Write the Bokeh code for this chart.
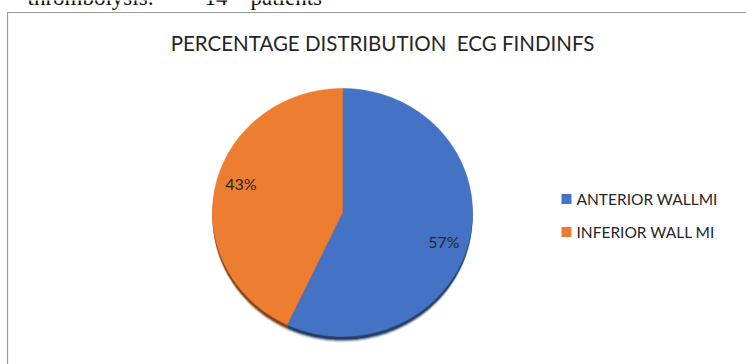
import numpy as np
from bokeh.plotting import figure
from bokeh.models import Range1d, ColumnDataSource
from bokeh.core.properties import value
from bokeh.embed import file_html
from bokeh.resources import INLINE

# ---- data -------------------------------------------------------------
chart_title = "PERCENTAGE DISTRIBUTION \u00a0ECG FINDINFS"
categories = ["ANTERIOR WALLMI", "INFERIOR WALL MI"]
percentages = [57, 43]
slice_colors = ["#4472C4", "#ED7D31"]
shadow_colors = ["#1F3760", "#7A3D12"]
caption_words = ["thrombolysis:", "14", "patients"]

# ---- canvas: one data unit per screen pixel, y grows downwards ---------
W, H = 746, 364
p = figure(width=W, height=H, x_range=Range1d(0, W), y_range=Range1d(H, 0),
           x_axis_type=None, y_axis_type=None, output_backend="svg",
           toolbar_location=None, min_border=0)
p.grid.visible = False
p.outline_line_color = None
p.background_fill_color = "white"
p.border_fill_color = "white"

# line of body text above the chart, partly cut by the top edge
p.text(x=[27, 204, 250], y=[-2.8, -2.8, -2.8], text=caption_words,
       text_font=value("Liberation Serif"), text_font_size="23px",
       text_color="#111111", text_baseline="middle", text_align="left")

# chart frame
p.line(x=[7, 7, W], y=[H, 12, 12], line_color="#9a9a9a", line_width=1.2)

# title
p.text(x=[382], y=[42], text=[chart_title], text_font=value("Lato"),
       text_font_size="20.5px", text_color="#262626",
       text_align="center", text_baseline="middle")

# ---- pie ---------------------------------------------------------------
cx, cy, rx, ry = 342, 212, 130, 124
fractions = np.array(percentages, dtype=float) / sum(percentages)
ends = np.cumsum(fractions) * 2 * np.pi
starts = ends - fractions * 2 * np.pi


def slice_outline(a0, a1, dy=0.0):
    t = np.linspace(a0, a1, 200)
    xs = np.concatenate([[cx], cx + rx * np.sin(t), [cx]])
    ys = np.concatenate([[cy + dy], cy + dy - ry * np.cos(t), [cy + dy]])
    return list(xs), list(ys)


# soft drop shadow below the pie
for dy, alpha in [(6, 0.12), (5, 0.25), (4, 0.5), (3, 0.9)]:
    xs, ys = zip(*[slice_outline(a, b, dy) for a, b in zip(starts, ends)])
    p.patches(xs=list(xs), ys=list(ys), fill_color=shadow_colors,
              fill_alpha=alpha, line_color=None)

xs, ys = zip(*[slice_outline(a, b) for a, b in zip(starts, ends)])
pie_src = ColumnDataSource(dict(xs=list(xs), ys=list(ys), color=slice_colors,
                                label=categories))
p.patches(xs="xs", ys="ys", fill_color="color", line_color="color",
          line_width=0.5, source=pie_src)

# percentage labels inside the slices
mids = (starts + ends) / 2
lab_x = cx + 0.8 * rx * np.sin(mids)
lab_y = cy - 1.08 * ry * np.cos(mids)
p.text(x=list(lab_x), y=list(lab_y), text=[f"{v}%" for v in percentages],
       text_font=value("Lato"), text_font_size="16px", text_color="#262626",
       text_align="center", text_baseline="middle")

# ---- legend ------------------------------------------------------------
leg_y = [198.5, 231.5]
p.rect(x=[566, 566], y=leg_y, width=10, height=10, fill_color=slice_colors,
       line_color=None)
p.text(x=[576, 576], y=leg_y, text=categories,
       text_font=value("Lato"), text_font_size="15.5px", text_color="#262626",
       text_align="left", text_baseline="middle")

open("out.html", "w").write(file_html(p, INLINE))
